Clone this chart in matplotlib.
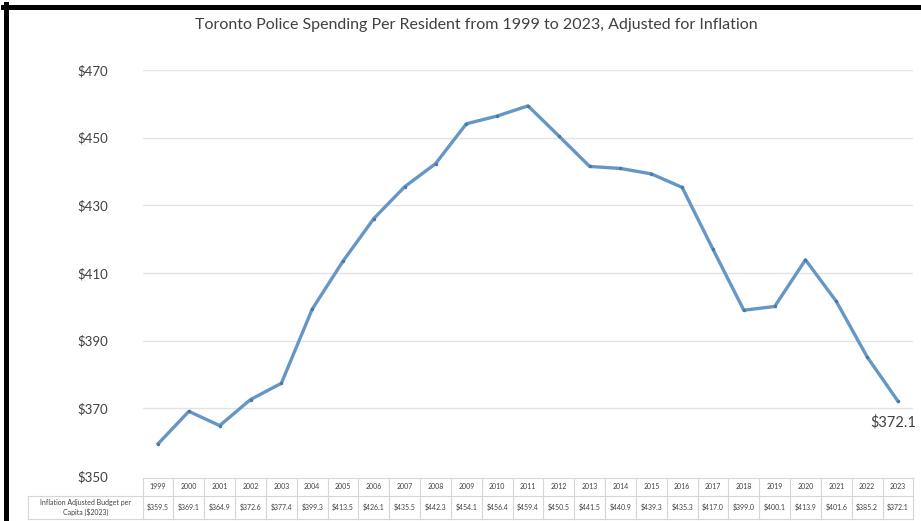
import matplotlib
matplotlib.use("Agg")
import matplotlib.pyplot as plt
import matplotlib.transforms as mtransforms
from matplotlib.lines import Line2D
import numpy as np

plt.rcParams['font.family'] = ['Lato', 'DejaVu Sans']

# data
years = [1999, 2000, 2001, 2002, 2003, 2004, 2005, 2006, 2007, 2008, 2009, 2010,
         2011, 2012, 2013, 2014, 2015, 2016, 2017, 2018, 2019, 2020, 2021, 2022, 2023]
spending = [359.5, 369.1, 364.9, 372.6, 377.4, 399.3, 413.5, 426.1, 435.5, 442.3,
            454.1, 456.4, 459.4, 450.5, 441.5, 440.9, 439.3, 435.3, 417.0, 399.0,
            400.1, 413.9, 401.6, 385.2, 372.1]
y_ticks = [350, 370, 390, 410, 430, 450, 470]
title = "Toronto Police Spending Per Resident from 1999 to 2023, Adjusted for Inflation"
row_label = "Inflation Adjusted Budget per\nCapita ($2023)"

W, H = 921, 521
fig = plt.figure(figsize=(W / 100, H / 100), dpi=100)
ax = fig.add_axes([142.6 / W, (H - 476) / H, 770.8 / W, 406 / H])

x = np.arange(len(years))
line_color = "#6497c6"
ax.plot(x, spending, color=line_color, linewidth=2.4,
        marker="o", markersize=2.5, markerfacecolor="#4a78a5", markeredgewidth=0)

ax.set_xlim(-0.5, len(years) - 0.5)
ax.set_ylim(350, 470)
ax.set_yticks(y_ticks)
ax.set_yticklabels([f"${v}" for v in y_ticks], fontsize=9.5, color="#404040")
ax.set_xticks([])
ax.tick_params(axis="y", length=0, pad=25)
ax.grid(axis="y", color="#e3e3e3", linewidth=1)
ax.set_axisbelow(True)
for s in ax.spines.values():
    s.set_visible(False)

# last value label
ax.annotate(f"${spending[-1]}", (x[-1], spending[-1]), xytext=(-3.5, -15),
            textcoords="offset points", ha="center", va="center",
            fontsize=10.5, color="#404040", annotation_clip=False)

fig.text(476 / W, 1 - 25 / H, title, ha="center", va="center",
         fontsize=11.5, color="#404040")

# data table below the axis
trans = mtransforms.blended_transform_factory(ax.transData, ax.transAxes)
y_top, y_mid, y_bot = -0.005, -0.049, -0.106
x_lab = -4.22
grid_kw = dict(color="#d6d6d6", linewidth=0.8, transform=trans, clip_on=False)
n = len(years)
for yy in (y_top, y_mid, y_bot):
    x0 = -0.5 if yy == y_top else x_lab
    ax.add_line(Line2D([x0, n - 0.5], [yy, yy], **grid_kw))
for k in range(n + 1):
    ax.add_line(Line2D([k - 0.5, k - 0.5], [y_top, y_bot], **grid_kw))
ax.add_line(Line2D([x_lab, x_lab], [y_mid, y_bot], **grid_kw))
for k, (yr, v) in enumerate(zip(years, spending)):
    ax.text(k, (y_top + y_mid) / 2, str(yr), transform=trans, ha="center",
            va="center", fontsize=5, color="#404040", clip_on=False)
    ax.text(k, (y_mid + y_bot) / 2, f"${v:.1f}", transform=trans, ha="center",
            va="center", fontsize=5, color="#404040", clip_on=False)
ax.text((x_lab - 0.5) / 2, (y_mid + y_bot) / 2, row_label, transform=trans,
        ha="center", va="center", fontsize=5, color="#404040", clip_on=False,
        linespacing=1.3)

# black frame on top and left edges
fig.add_artist(Line2D([5.5 / W, 5.5 / W], [0, 1 - 4 / H], color="black",
                      linewidth=3.6, transform=fig.transFigure))
fig.add_artist(Line2D([3 / W, 1], [1 - 6.5 / H, 1 - 6.5 / H], color="black",
                      linewidth=3.6, transform=fig.transFigure))

fig.savefig("out.png", dpi=100)
